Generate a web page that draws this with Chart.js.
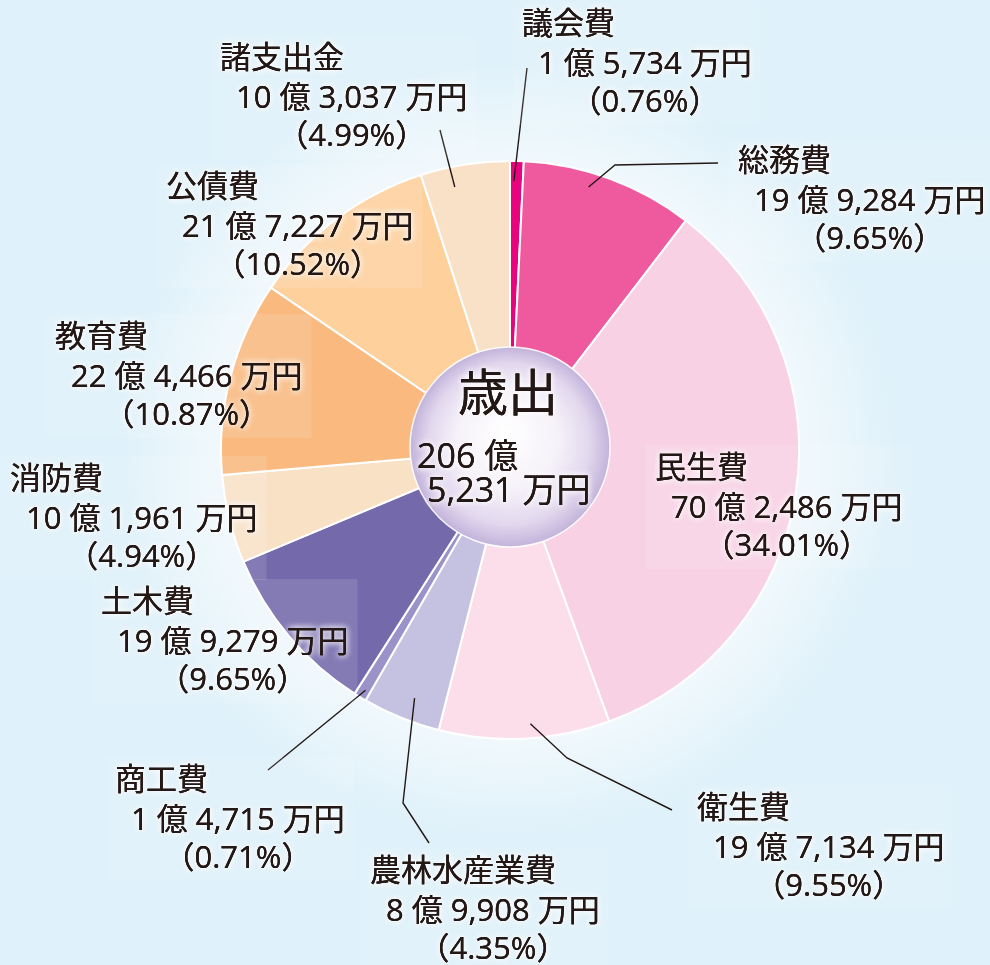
<!DOCTYPE html>
<html><head><meta charset="utf-8">
<script src="https://cdn.jsdelivr.net/npm/chart.js@4.4.1/dist/chart.umd.min.js"></script>
<style>html,body{margin:0;padding:0;background:#dff1fa;} canvas{display:block}</style>
</head><body>
<canvas id="c" width="990" height="965"></canvas>
<script>
// ---- data ----
const categories = ['議会費','総務費','民生費','衛生費','農林水産業費','商工費','土木費','消防費','教育費','公債費','諸支出金'];
const amounts = [15734,199284,702486,197134,89908,14715,199279,101961,224466,217227,103037]; // 万円
const percents = ['0.76','9.65','34.01','9.55','4.35','0.71','9.65','4.94','10.87','10.52','4.99'];
const centerTitle = '歳出';
const totalAmount = 2065231; // 万円

// ---- styles ----
const sliceColors = ['#e8037f','#ef5a9f','#f8d1e4','#fbdeea','#c5c2e1','#9a92c9','#7369ab','#f9e1c6','#f9b97f','#fdd09c','#f9e1c8'];
const TEXT = '#231815';
const FONT = '"Open Sans","Noto Sans CJK JP",sans-serif';
// label layout: first-line left x / middle y, leader anchor (fraction along slice, radius fraction) and bend points
const labelLayout = [
  {x:522,y:25, leader:{f:.30,r:.93,pts:[[527,68]]}},
  {x:738,y:162,leader:{f:.40,r:.95,pts:[[615,165],[718,163]]}},
  {x:655,y:469},
  {x:697,y:809,leader:{f:.46,r:.95,pts:[[567,758],[672,810]]}},
  {x:370,y:872,leader:{f:.43,r:.92,pts:[[403,803],[429,843]]}},
  {x:115,y:781,leader:{f:.41,r:.97,pts:[[268,770]]}},
  {x:101,y:603},
  {x:10, y:480},
  {x:55, y:338},
  {x:166,y:188},
  {x:220,y:59, leader:{f:.34,r:.93,pts:[[440,130]]}}
];

function fmtAmount(v){
  const oku = Math.floor(v/10000), man = v%10000;
  return oku + ' 億 ' + man.toLocaleString('en-US') + ' 万円';
}

const bgPlugin = {
  id:'bg',
  beforeDraw(chart){
    const ctx = chart.ctx, W = chart.width, H = chart.height;
    ctx.save();
    ctx.fillStyle = '#dff1fa';
    ctx.fillRect(0,0,W,H);
    const a = chart.getDatasetMeta(0).data[0];
    const g = ctx.createRadialGradient(a.x,a.y,270,a.x,a.y,390);
    g.addColorStop(0,'rgba(255,255,255,0.65)');
    g.addColorStop(1,'rgba(255,255,255,0)');
    ctx.fillStyle = g;
    ctx.fillRect(0,0,W,H);
    ctx.restore();
  }
};

const labelPlugin = {
  id:'labels',
  afterDatasetsDraw(chart){
    const ctx = chart.ctx;
    const arcs = chart.getDatasetMeta(0).data;
    const cx = arcs[0].x, cy = arcs[0].y;
    ctx.save();
    // center disc
    const R = 100, ccy = cy - 3;
    const g = ctx.createRadialGradient(cx-5, ccy-15, 0, cx, ccy, R);
    g.addColorStop(0,'#ffffff');
    g.addColorStop(0.5,'#f6f2f9');
    g.addColorStop(0.8,'#e2d8ee');
    g.addColorStop(1,'#c2b3da');
    ctx.beginPath(); ctx.arc(cx, ccy, R, 0, Math.PI*2);
    ctx.fillStyle = g; ctx.fill();
    ctx.lineWidth = 1.5; ctx.strokeStyle = 'rgba(255,255,255,0.9)'; ctx.stroke();

    // leader lines
    ctx.strokeStyle = TEXT; ctx.lineWidth = 1.4;
    labelLayout.forEach((L,i)=>{
      if(!L.leader) return;
      const a = arcs[i];
      const ang = a.startAngle + (a.endAngle - a.startAngle)*L.leader.f;
      const r = a.outerRadius*L.leader.r;
      ctx.beginPath();
      ctx.moveTo(a.x + r*Math.cos(ang), a.y + r*Math.sin(ang));
      L.leader.pts.forEach(p=>ctx.lineTo(p[0],p[1]));
      ctx.stroke();
    });

    // label boxes + text
    ctx.font = '31px ' + FONT;
    ctx.textBaseline = 'middle';
    const items = labelLayout.map((L,i)=>{
      const l1 = categories[i], l2 = fmtAmount(amounts[i]), l3 = '（' + percents[i] + '%）';
      const w1 = ctx.measureText(l1).width, w2 = ctx.measureText(l2).width, w3 = ctx.measureText(l3).width;
      const x2 = L.x + 16, c2 = x2 + w2/2;
      const x3 = c2 - w3/2;
      return {lines:[[l1,L.x,L.y],[l2,x2,L.y+40],[l3,x3,L.y+78]], box:[Math.min(L.x,x3)-9, L.y-24, Math.max(L.x+w1, x2+w2, x3+w3)+9, L.y+100]};
    });
    ctx.fillStyle = 'rgba(255,255,255,0.12)';
    items.forEach(it=>{ const b = it.box; ctx.fillRect(b[0],b[1],b[2]-b[0],b[3]-b[1]); });
    function glowText(t,x,y){
      ctx.shadowColor = 'rgba(255,255,255,1)'; ctx.shadowBlur = 6;
      ctx.fillStyle = TEXT;
      ctx.fillText(t,x,y); ctx.fillText(t,x,y);
      ctx.shadowBlur = 0;
      ctx.fillText(t,x,y);
    }
    items.forEach(it=>it.lines.forEach(l=>glowText(l[0],l[1],l[2])));

    // center text
    ctx.textAlign = 'center';
    ctx.font = '50px ' + FONT;
    glowText(centerTitle, cx-2, cy-53);
    ctx.textAlign = 'left';
    ctx.font = '34px ' + FONT;
    const oku = Math.floor(totalAmount/10000), man = totalAmount%10000;
    glowText(oku + ' 億', cx-93, cy+8);
    glowText(man.toLocaleString('en-US') + ' 万円', cx-83, cy+42);
    ctx.restore();
  }
};

new Chart(document.getElementById('c'), {
  type:'pie',
  data:{ labels:categories, datasets:[{ data:amounts, backgroundColor:sliceColors, borderColor:'#ffffff', borderWidth:2 }]},
  options:{
    responsive:false, animation:false, devicePixelRatio:1,
    radius:289,
    layout:{padding:{left:220,right:190,top:160,bottom:225}},
    plugins:{legend:{display:false}, tooltip:{enabled:false}}
  },
  plugins:[bgPlugin, labelPlugin]
});
</script>
</body></html>
